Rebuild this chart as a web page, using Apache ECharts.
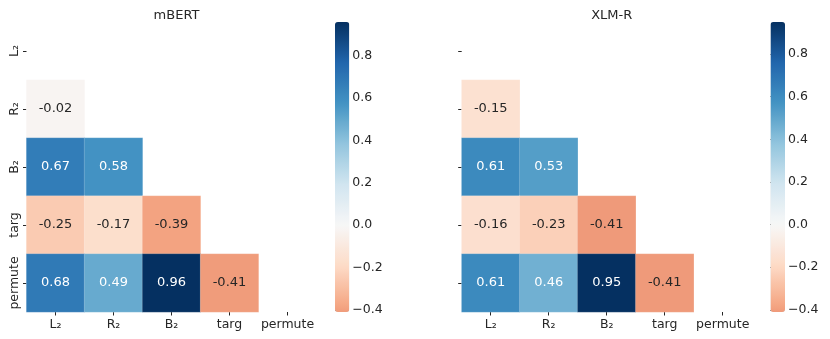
<!DOCTYPE html>
<html>
<head>
<meta charset="utf-8">
<title>mBERT / XLM-R heatmaps</title>
<style>
  html, body, #main { width: 830px; height: 339px; margin: 0; padding: 0; background: #fff; }
</style>
</head>
<body>
<div id="main"></div>
<script src="https://cdn.jsdelivr.net/npm/echarts@6/dist/echarts.min.js"></script>
<script>
// categories, same on both axes
var labels = ['L₂', 'R₂', 'B₂', 'targ', 'permute'];
// lower triangle, row by row (row i holds columns 0..i-1)
var mbertRows = [[], [-0.02], [0.67, 0.58], [-0.25, -0.17, -0.39], [0.68, 0.49, 0.96, -0.41]];
var xlmrRows  = [[], [-0.15], [0.61, 0.53], [-0.16, -0.23, -0.41], [0.61, 0.46, 0.95, -0.41]];
var cbarTicks = [-0.4, -0.2, 0.0, 0.2, 0.4, 0.6, 0.8];

var FONT = 'DejaVu Sans';
var TXT = '#262626';

// matplotlib RdBu anchors
var rdbu = ['#67001f','#b2182b','#d6604d','#f4a582','#fddbc7','#f7f7f7',
            '#d1e5f0','#92c5de','#4393c3','#2166ac','#053061'];

function hex2rgb(h) {
  return [parseInt(h.substr(1, 2), 16), parseInt(h.substr(3, 2), 16), parseInt(h.substr(5, 2), 16)];
}
function rdbuAt(p) {
  p = Math.max(0, Math.min(1, p)) * 10;
  var i = Math.min(9, Math.floor(p)), f = p - i;
  var a = hex2rgb(rdbu[i]), b = hex2rgb(rdbu[i + 1]);
  return a.map(function (c, k) { return Math.round(c + (b[k] - c) * f); });
}
// seaborn center=0 : map stretched symmetric around 0, then cut to [vmin, vmax]
function colorFor(v, vmin, vmax) {
  var r = Math.max(Math.abs(vmin), Math.abs(vmax));
  return rdbuAt((v + r) / (2 * r));
}
function rgbStr(c) { return 'rgb(' + c.join(',') + ')'; }
function luminance(c) {
  var l = c.map(function (x) {
    x = x / 255;
    return x <= 0.03928 ? x / 12.92 : Math.pow((x + 0.055) / 1.055, 2.4);
  });
  return 0.2126 * l[0] + 0.7152 * l[1] + 0.0722 * l[2];
}

function build(rows) {
  var all = [];
  rows.forEach(function (r) { all = all.concat(r); });
  var vmin = Math.min.apply(null, all), vmax = Math.max.apply(null, all);
  var data = [];
  rows.forEach(function (r, i) {
    r.forEach(function (v, j) {
      var c = colorFor(v, vmin, vmax);
      data.push({ value: [j, i, v], label: { color: luminance(c) > 0.408 ? TXT : '#ffffff' } });
    });
  });
  var stops = [];
  for (var k = 0; k <= 64; k++) stops.push(rgbStr(colorFor(vmin + (vmax - vmin) * k / 64, vmin, vmax)));
  return { data: data, vmin: vmin, vmax: vmax, stops: stops };
}

var L = build(mbertRows), R = build(xlmrRows);

var heatGrids = [{ left: 26.5, top: 22, width: 290, height: 290 },
                 { left: 461.7, top: 22, width: 290, height: 290 }];
var cbarGrids = [{ left: 335, top: 22, width: 14.3, height: 290 },
                 { left: 770.5, top: 22, width: 14.5, height: 290 }];

function catX(gi) {
  return {
    type: 'category', gridIndex: gi, data: labels, position: 'bottom',
    axisLine: { show: false }, splitArea: { show: false },
    axisTick: { show: true, alignWithLabel: true, interval: 0, length: 3.5, lineStyle: { color: TXT, width: 1 } },
    axisLabel: { interval: 0, fontFamily: FONT, fontSize: 12.5, color: TXT, margin: 6 }
  };
}
function catY(gi, showLabels) {
  return {
    type: 'category', gridIndex: gi, data: labels, inverse: true,
    axisLine: { show: false }, splitArea: { show: false },
    axisTick: { show: true, alignWithLabel: true, interval: 0, length: 3.5, lineStyle: { color: TXT, width: 1 } },
    axisLabel: {
      interval: 0, fontFamily: FONT, fontSize: 12.5, color: TXT, margin: 5, rotate: 90,
      formatter: function (v) { return showLabels ? v : ''; }
    }
  };
}
function cbarY(gi, m) {
  return {
    type: 'value', gridIndex: gi, min: m.vmin, max: m.vmax, position: 'right',
    axisLine: { show: false }, splitLine: { show: false },
    axisTick: { show: true, customValues: cbarTicks, length: 3.5, lineStyle: { color: TXT, width: 1 } },
    axisLabel: {
      customValues: cbarTicks, fontFamily: FONT, fontSize: 12.5, color: TXT, margin: 3,
      formatter: function (v) { return (v < -1e-9 ? '\u2212' : '') + Math.abs(v).toFixed(1); }
    }
  };
}
function heatSeries(gi, m) {
  return {
    type: 'heatmap', xAxisIndex: gi, yAxisIndex: gi, data: m.data,
    itemStyle: { borderColor: 'rgba(255,255,255,0.25)', borderWidth: 0.6 },
    label: {
      show: true, fontFamily: FONT, fontSize: 13,
      formatter: function (p) { return p.value[2].toFixed(2); }
    },
    emphasis: { disabled: true }
  };
}
function vmap(si, m, g) {
  return {
    type: 'continuous', seriesIndex: si, min: m.vmin, max: m.vmax,
    calculable: false, hoverLink: false, padding: 0,
    left: g.left, top: g.top, itemWidth: g.width, itemHeight: g.height,
    inRange: { color: m.stops }
  };
}

var chart = echarts.init(document.getElementById('main'), null, { renderer: 'canvas' });
chart.setOption({
  animation: false,
  backgroundColor: '#ffffff',
  title: [
    { text: 'mBERT', left: 171.5, top: 4, textAlign: 'center',
      textStyle: { fontFamily: FONT, fontSize: 13, fontWeight: 'normal', color: TXT } },
    { text: 'XLM-R', left: 606.7, top: 4, textAlign: 'center',
      textStyle: { fontFamily: FONT, fontSize: 13, fontWeight: 'normal', color: TXT } }
  ],
  grid: heatGrids.concat(cbarGrids),
  xAxis: [catX(0), catX(1),
          { type: 'value', gridIndex: 2, show: false, min: 0, max: 1 },
          { type: 'value', gridIndex: 3, show: false, min: 0, max: 1 }],
  yAxis: [catY(0, true), catY(1, false), cbarY(2, L), cbarY(3, R)],
  visualMap: [vmap(0, L, cbarGrids[0]), vmap(1, R, cbarGrids[1])],
  series: [heatSeries(0, L), heatSeries(1, R)]
});
</script>
</body>
</html>
